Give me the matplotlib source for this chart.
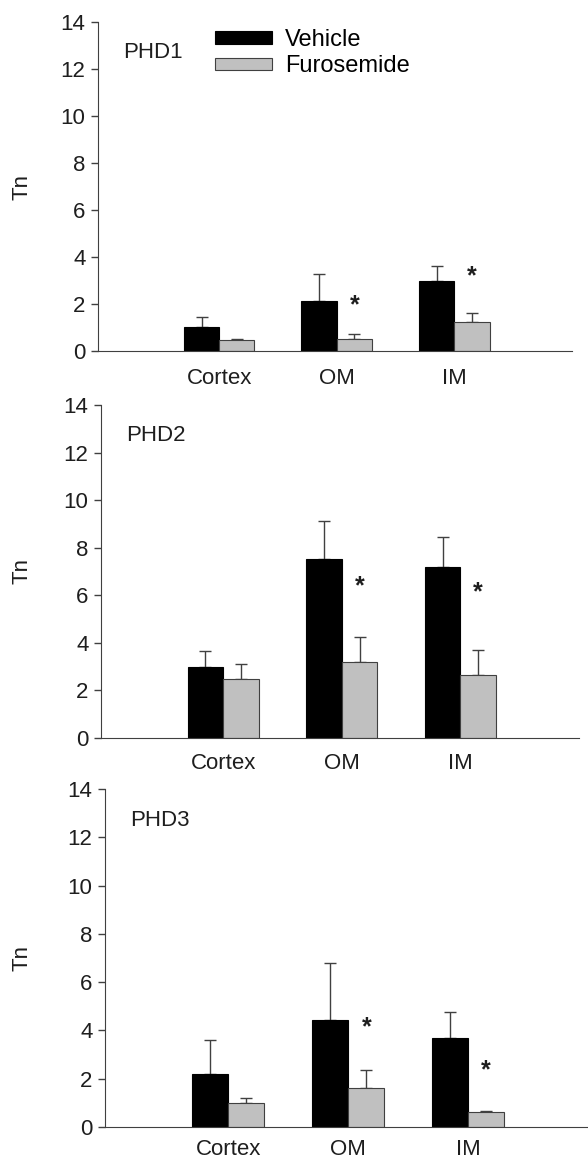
import numpy as np
import matplotlib
matplotlib.use("Agg")
import matplotlib.pyplot as plt

plt.rcParams['font.family'] = ['Liberation Sans', 'DejaVu Sans']

regions = ["Cortex", "OM", "IM"]
panel_names = ["PHD1", "PHD2", "PHD3"]

# means and upper error (SEM)
vehicle_mean = [[1.02, 2.13, 2.97], [2.98, 7.52, 7.17], [2.21, 4.43, 3.69]]
vehicle_err = [[0.43, 1.14, 0.64], [0.69, 1.60, 1.28], [1.41, 2.38, 1.09]]
furo_mean = [[0.48, 0.53, 1.24], [2.49, 3.18, 2.66], [0.99, 1.63, 0.62]]
furo_err = [[0.02, 0.21, 0.38], [0.62, 1.06, 1.04], [0.21, 0.75, 0.06]]

# significance stars: (region index, y)
stars = [[(1, 1.95), (2, 3.16)], [(1, 6.37), (2, 6.13)], [(1, 4.14), (2, 2.35)]]

W, H = 588, 1161
fig = plt.figure(figsize=(W / 100, H / 100), dpi=100)

# axes boxes in pixels: left, right, top, bottom
boxes = [(98, 572, 22, 351), (101, 579, 405, 738), (105, 588, 789, 1127)]
xpads = [12, 11, 8.5]

edge = "#404040"
grey = "#c0c0c0"
txt = "#1e1e1e"
bw = 0.30
x = np.arange(len(regions))

for k, (l, r, t, b) in enumerate(boxes):
    ax = fig.add_axes([l / W, 1 - b / H, (r - l) / W, (b - t) / H])
    ax.bar(x - bw / 2, vehicle_mean[k], bw, color="black", edgecolor="black",
           linewidth=0.8, label="Vehicle", zorder=2)
    ax.bar(x + bw / 2, furo_mean[k], bw, color=grey, edgecolor=edge,
           linewidth=0.8, label="Furosemide", zorder=2)
    ax.errorbar(x - bw / 2, vehicle_mean[k], yerr=[np.zeros(3), vehicle_err[k]],
                fmt="none", ecolor=edge, elinewidth=1, capsize=4, capthick=1, zorder=1)
    ax.errorbar(x + bw / 2, furo_mean[k], yerr=[np.zeros(3), furo_err[k]],
                fmt="none", ecolor=edge, elinewidth=1, capsize=4, capthick=1, zorder=1)
    for i, ys in stars[k]:
        ax.text(i + bw / 2, ys, "*", ha="center", va="center", fontsize=18,
                fontweight="bold", color=txt)

    ax.set_xlim(-1.03, 3.0)
    ax.set_ylim(0, 14)
    ax.set_yticks(range(0, 15, 2))
    ax.set_xticks(x)
    ax.set_xticklabels(regions)
    ax.tick_params(axis="x", length=0, pad=xpads[k], labelsize=16, colors=txt)
    ax.tick_params(axis="y", length=5, width=1, color=edge, pad=4,
                   labelsize=16, labelcolor=txt)
    ax.spines["top"].set_visible(False)
    ax.spines["right"].set_visible(False)
    ax.spines["left"].set_color(edge)
    ax.spines["bottom"].set_color(edge)
    ax.set_ylabel("Tn", fontsize=16, color=txt)
    ax.yaxis.set_label_coords((33 - l) / (r - l), 0.5)
    ax.text(-0.82, 12.7, panel_names[k], fontsize=16, va="center", ha="left",
            color=txt)

    if k == 0:
        ax.legend(loc="upper left", bbox_to_anchor=(0.247, 0.98), frameon=False,
                  fontsize=17, handlelength=2.4, handleheight=0.45,
                  handletextpad=0.55, labelspacing=0.2, borderpad=0,
                  borderaxespad=0)

fig.savefig("out.png", dpi=100)
